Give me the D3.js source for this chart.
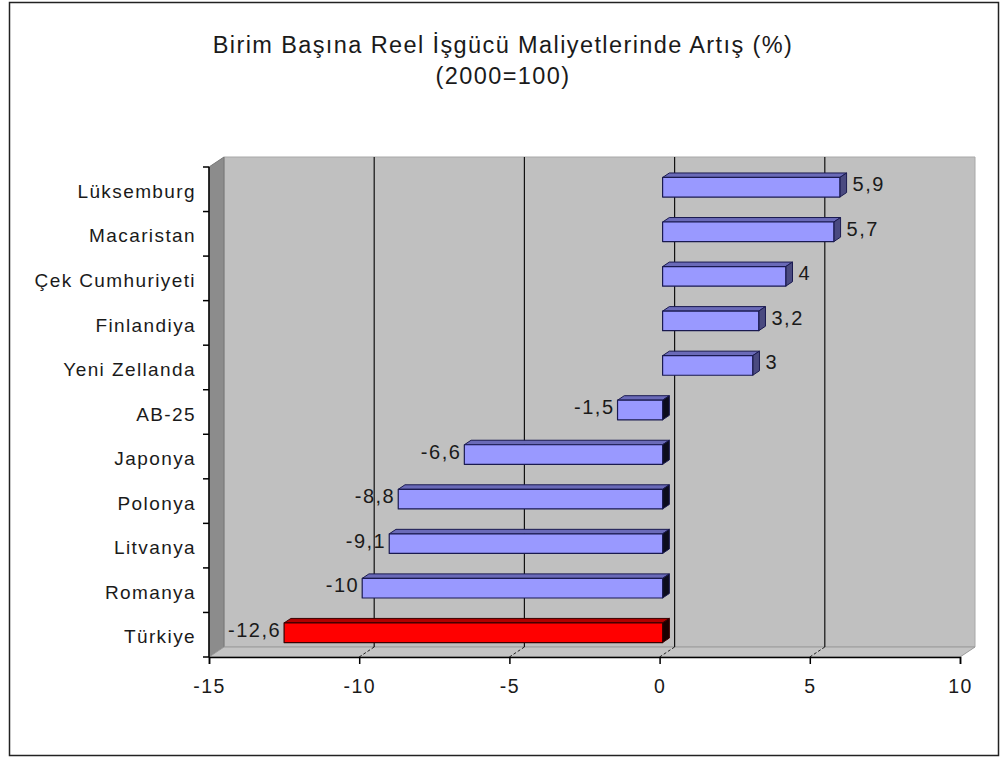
<!DOCTYPE html>
<html lang="tr">
<head>
    <meta charset="UTF-8">
    <title>Birim Başına Reel İşgücü Maliyetlerinde Artış</title>
    <script src="https://d3js.org/d3.v7.min.js"></script>
    <style>
        body {
            margin: 0;
            padding: 0;
            background: #ffffff;
            font-family: "Liberation Sans", Arial, sans-serif;
        }
        svg text {
            fill: #1a1a1a;
        }
    </style>
</head>
<body>
    <div id="chart"></div>

    <script>
        // data
        const categories = ["Lüksemburg", "Macaristan", "Çek Cumhuriyeti", "Finlandiya", "Yeni Zellanda",
            "AB-25", "Japonya", "Polonya", "Litvanya", "Romanya", "Türkiye"];
        const values = [5.9, 5.7, 4.1, 3.2, 3, -1.5, -6.6, -8.8, -9.1, -10, -12.6];
        const valueLabels = ["5,9", "5,7", "4", "3,2", "3", "-1,5", "-6,6", "-8,8", "-9,1", "-10", "-12,6"];
        const highlighted = ["Türkiye"];
        const xTicks = [-15, -10, -5, 0, 5, 10];
        const titleLines = ["Birim Başına Reel İşgücü Maliyetlerinde Artış (%)", "(2000=100)"];

        const width = 1007;
        const height = 761;

        // oblique depth of the 3d plot box
        const DX = 15, DY = -10;
        const Z0 = 0.2, Z1 = 0.65; // bar depth inside the box

        const svg = d3.select("#chart").append("svg")
            .attr("width", width)
            .attr("height", height);

        // outer frame
        svg.append("rect")
            .attr("x", 9.5).attr("y", 2.5)
            .attr("width", 989).attr("height", 753)
            .attr("fill", "#fff")
            .attr("stroke", "#222")
            .attr("stroke-width", 1.5);

        const x = d3.scaleLinear().domain([-15, 10]).range([209, 960]);
        const y = d3.scaleBand().domain(categories)
            .range([167, 657])
            .paddingInner(0.56)
            .paddingOuter(0.28);

        const plotTop = 167, plotBottom = 657;
        const P = (v, yy, z) => [x(v) + z * DX, yy + z * DY];
        const poly = pts => pts.map(p => p.join(",")).join(" ");

        const [xMin, xMax] = x.domain();

        // back wall
        svg.append("polygon")
            .attr("points", poly([P(xMin, plotTop, 1), P(xMax, plotTop, 1), P(xMax, plotBottom, 1), P(xMin, plotBottom, 1)]))
            .attr("fill", "#c0c0c0")
            .attr("stroke", "#a8a8a8")
            .attr("stroke-width", 1);

        // left wall
        svg.append("polygon")
            .attr("points", poly([P(xMin, plotTop, 0), P(xMin, plotTop, 1), P(xMin, plotBottom, 1), P(xMin, plotBottom, 0)]))
            .attr("fill", "#8c8c8c")
            .attr("stroke", "#777")
            .attr("stroke-width", 1);

        // floor
        svg.append("polygon")
            .attr("points", poly([P(xMin, plotBottom, 0), P(xMax, plotBottom, 0), P(xMax, plotBottom, 1), P(xMin, plotBottom, 1)]))
            .attr("fill", "#c4c4c4")
            .attr("stroke", "#9a9a9a")
            .attr("stroke-width", 1);

        // gridlines on back wall + floor
        const inner = xTicks.filter(t => t > xMin && t < xMax);
        svg.selectAll(".grid")
            .data(inner)
            .join("line")
            .attr("class", "grid")
            .attr("x1", d => P(d, plotTop, 1)[0])
            .attr("y1", d => P(d, plotTop, 1)[1])
            .attr("x2", d => P(d, plotBottom, 1)[0])
            .attr("y2", d => P(d, plotBottom, 1)[1])
            .attr("stroke", "#111")
            .attr("stroke-width", 1.2);

        svg.selectAll(".floorgrid")
            .data(inner)
            .join("line")
            .attr("class", "floorgrid")
            .attr("x1", d => P(d, plotBottom, 0)[0])
            .attr("y1", d => P(d, plotBottom, 0)[1])
            .attr("x2", d => P(d, plotBottom, 1)[0])
            .attr("y2", d => P(d, plotBottom, 1)[1])
            .attr("stroke", "#222")
            .attr("stroke-width", 1)
            .attr("stroke-dasharray", "3,2");

        // title
        svg.append("g")
            .selectAll("text")
            .data(titleLines)
            .join("text")
            .attr("x", 503)
            .attr("y", (d, i) => 53 + i * 31)
            .attr("text-anchor", "middle")
            .style("font-size", "23.5px")
            .style("letter-spacing", "1.4px")
            .text(d => d);

        const rows = categories.map((c, i) => ({ c, v: values[i], label: valueLabels[i] }));
        const bw = y.bandwidth();
        const midY = d => y(d.c) + bw / 2 + Z0 * DY;

        // data labels (drawn under bars, the bars may cover them a bit)
        svg.selectAll(".vlabel")
            .data(rows)
            .join("text")
            .attr("class", "vlabel")
            .attr("x", d => d.v >= 0 ? P(d.v, 0, Z1)[0] + 6 : P(d.v, 0, Z0)[0] - 3)
            .attr("y", d => midY(d) - 3)
            .attr("dy", "0.35em")
            .attr("text-anchor", d => d.v >= 0 ? "start" : "end")
            .style("font-size", "20px")
            .style("letter-spacing", "1.5px")
            .text(d => d.label);

        // bars
        const colors = d => highlighted.includes(d.c)
            ? { front: "#ff0000", top: "#b00000", end: d.v < 0 ? "#1a0000" : "#7a0000", edge: "#3a0000" }
            : { front: "#9999ff", top: "#6a6ab8", end: d.v < 0 ? "#0c0c1c" : "#4a4a80", edge: "#1a1a50" };

        const bars = svg.selectAll(".bar")
            .data(rows)
            .join("g")
            .attr("class", "bar");

        bars.each(function(d) {
            const g = d3.select(this);
            const v0 = Math.min(0, d.v), v1 = Math.max(0, d.v);
            const yt = y(d.c), yb = y(d.c) + bw;
            const col = colors(d);
            g.append("polygon")
                .attr("points", poly([P(v0, yt, Z0), P(v1, yt, Z0), P(v1, yt, Z1), P(v0, yt, Z1)]))
                .attr("fill", col.top)
                .attr("stroke", col.edge).attr("stroke-width", 1).attr("stroke-linejoin", "round");
            g.append("polygon")
                .attr("points", poly([P(v1, yt, Z0), P(v1, yt, Z1), P(v1, yb, Z1), P(v1, yb, Z0)]))
                .attr("fill", col.end)
                .attr("stroke", col.edge).attr("stroke-width", 1).attr("stroke-linejoin", "round");
            g.append("polygon")
                .attr("points", poly([P(v0, yt, Z0), P(v1, yt, Z0), P(v1, yb, Z0), P(v0, yb, Z0)]))
                .attr("fill", col.front)
                .attr("stroke", col.edge).attr("stroke-width", 1.2).attr("stroke-linejoin", "round");
        });

        // category axis (front left edge)
        svg.append("line")
            .attr("x1", x(xMin)).attr("x2", x(xMin))
            .attr("y1", plotTop).attr("y2", plotBottom)
            .attr("stroke", "#000").attr("stroke-width", 1.5);

        const step = y.step();
        const bounds = d3.range(categories.length + 1).map(i => plotTop + i * step);
        svg.selectAll(".ctick")
            .data(bounds)
            .join("line")
            .attr("class", "ctick")
            .attr("x1", x(xMin) - 6).attr("x2", x(xMin))
            .attr("y1", d => d).attr("y2", d => d)
            .attr("stroke", "#000").attr("stroke-width", 1.5);

        svg.selectAll(".clabel")
            .data(categories)
            .join("text")
            .attr("class", "clabel")
            .attr("x", 196)
            .attr("y", d => y(d) + bw / 2 + 2)
            .attr("dy", "0.35em")
            .attr("text-anchor", "end")
            .style("font-size", "19px")
            .style("letter-spacing", "1.4px")
            .text(d => d);

        // value axis (front bottom edge)
        const xAxis = d3.axisBottom(x)
            .tickValues(xTicks)
            .tickSize(7)
            .tickPadding(15)
            .tickFormat(d => d);

        const ax = svg.append("g")
            .attr("transform", `translate(0,${plotBottom})`)
            .call(xAxis);
        ax.select(".domain").attr("stroke", "#000").attr("stroke-width", 1.5);
        ax.selectAll(".tick line").attr("stroke", "#000").attr("stroke-width", 1.5);
        ax.selectAll(".tick text")
            .style("font-family", "'Liberation Sans', Arial, sans-serif")
            .style("font-size", "19.5px")
            .style("letter-spacing", "1.4px")
            .attr("fill", "#1a1a1a")
            .text(d => d < 0 ? "-" + Math.abs(d) : d);
    </script>
</body>
</html>
